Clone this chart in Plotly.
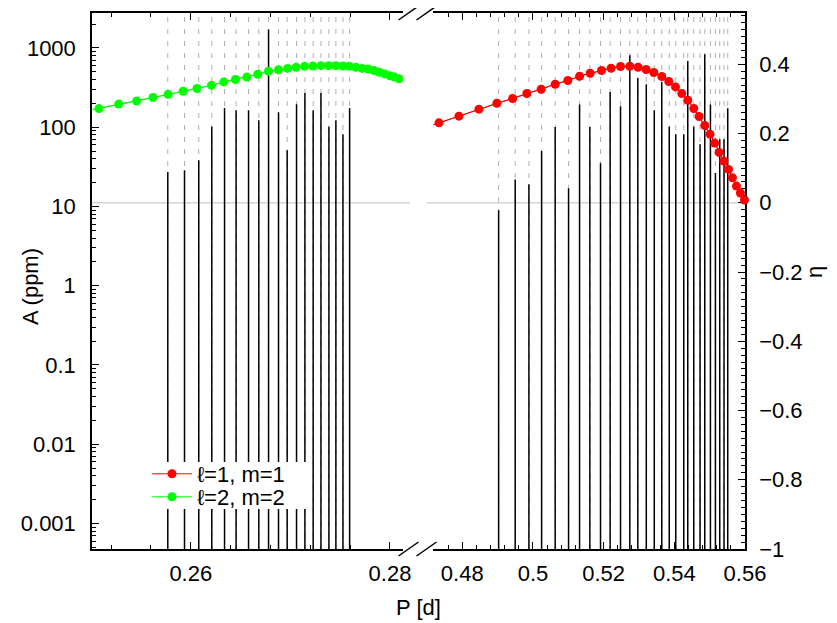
import plotly.graph_objects as go

# ---------------- data ----------------
# l=2, m=2 modes (left panel): period [d] and amplitude [ppm]
P_l2 = [0.25769, 0.25937, 0.26080, 0.26211, 0.26339, 0.26455, 0.26580, 0.26683,
        0.26781, 0.26881, 0.26968, 0.27062, 0.27146, 0.27229, 0.27307, 0.27387,
        0.27457, 0.27528, 0.27595]
A_l2 = [27.3, 28.7, 38.4, 101, 175, 164, 164, 122.6,
        1706, 154.5, 51.3, 195, 271, 164, 271, 101,
        122.6, 81.6, 175]

# l=1, m=1 modes (right panel)
P_l1 = [0.49029, 0.49498, 0.49886, 0.50245, 0.50629, 0.51008, 0.51319, 0.51610,
        0.51912, 0.52184, 0.52478, 0.52741, 0.52967, 0.53207, 0.53433, 0.53645,
        0.53857, 0.54041, 0.54267, 0.54380, 0.54550, 0.54728, 0.54861, 0.55022,
        0.55163, 0.55285, 0.55406, 0.55511]
A_l1 = [8.98, 21.9, 19.1, 50.2, 100.9, 17.0, 193, 100.9,
        35.2, 279, 184, 809, 418, 348, 164, 373,
        101, 81.6, 81.6, 686, 101, 61.0, 833, 193,
        26.5, 70.6, 70.6, 174]

# eta, l=2 m=2
P_eta2 = [0.2488, 0.25078, 0.25276, 0.25457, 0.25621, 0.25772, 0.25923, 0.26063,
          0.26208, 0.26332, 0.26449, 0.26563, 0.26673, 0.26781, 0.26881, 0.26972,
          0.27058, 0.27143, 0.27226, 0.27307, 0.27384, 0.27457, 0.27528, 0.27591,
          0.27658, 0.27722, 0.27782, 0.27839, 0.27892, 0.27947, 0.27997, 0.28043,
          0.28090, 0.28134, 0.28174]
eta2 = [0.261, 0.272, 0.285, 0.294, 0.304, 0.313, 0.322, 0.330,
        0.339, 0.349, 0.356, 0.363, 0.371, 0.380, 0.384, 0.388,
        0.391, 0.394, 0.395, 0.396, 0.396, 0.396, 0.395, 0.394,
        0.391, 0.388, 0.386, 0.382, 0.377, 0.372, 0.367, 0.363,
        0.358, 0.353, 0.348]

# eta, l=1 m=1
P_eta1 = [0.4678, 0.47341, 0.47907, 0.48472, 0.48981, 0.49425, 0.49829, 0.50233,
          0.50629, 0.50988, 0.51319, 0.51618, 0.51941, 0.52212, 0.52478, 0.52741,
          0.52976, 0.53202, 0.53420, 0.53646, 0.53844, 0.54033, 0.54211, 0.54381,
          0.54551, 0.54701, 0.54862, 0.55011, 0.55144, 0.55266, 0.55399, 0.55532,
          0.55645, 0.55758, 0.55871, 0.55985]
eta1 = [0.211, 0.2307, 0.2500, 0.2702, 0.2874, 0.3010, 0.3155, 0.3279,
        0.3423, 0.3530, 0.3654, 0.3741, 0.3819, 0.3885, 0.3934, 0.3943,
        0.3914, 0.3848, 0.3761, 0.3646, 0.3501, 0.3346, 0.3155, 0.2961,
        0.2722, 0.2492, 0.2232, 0.1981, 0.1722, 0.1453, 0.1203, 0.0963,
        0.0721, 0.0482, 0.0280, 0.0078]

A_ticks = [0.001, 0.01, 0.1, 1, 10, 100, 1000]
A_ticktext = ["0.001", "0.01", "0.1", "1", "10", "100", "1000"]
eta_ticks = [-1, -0.8, -0.6, -0.4, -0.2, 0, 0.2, 0.4]
eta_ticktext = ["\u22121", "\u22120.8", "\u22120.6", "\u22120.4", "\u22120.2", "0", "0.2", "0.4"]

# ---------------- layout geometry (page pixels -> figure) ----------------
OFF = 8                     # default body margin of the html page
W, H = 829, 615
PX_L, PX_R, PX_T, PX_B = 92, 745, 13, 549   # plot area in page pixels
L, T = PX_L - OFF, PX_T - OFF
R = W - (PX_R - OFF)
B = H - (PX_B - OFF)
plot_w = PX_R - PX_L
plot_h = PX_B - PX_T


def pxx(xp):
    return (xp - PX_L) / plot_w


def pxy(yp):
    return (PX_B - yp) / plot_h


x1_dom = [0.0, pxx(403)]
x2_dom = [pxx(433), 1.0]
x1_range = [0.25008, 0.28131]
x2_range = [0.47172, 0.56]
y_range = [-3.322, 3.441]
y2_range = [-1.0, 0.548]

FONT = "Liberation Sans, Arial, Helvetica, sans-serif"
FS = 22

fig = go.Figure()


def stems(P, top, low):
    xs, ys = [], []
    for p, a in zip(P, top):
        xs += [p, p, None]
        ys += [low, a, None]
    return xs, ys


# dashed guide lines (full height)
for P, xa in ((P_l2, "x"), (P_l1, "x2")):
    xs, ys = stems(P, [1e5] * len(P), 1e-5)
    fig.add_trace(go.Scatter(x=xs, y=ys, xaxis=xa, yaxis="y", mode="lines",
                             line=dict(color="#b0b0b0", width=1, dash="5px,7px"),
                             showlegend=False, hoverinfo="skip"))

# amplitude bars
for P, A, xa in ((P_l2, A_l2, "x"), (P_l1, A_l1, "x2")):
    xs, ys = stems(P, A, 1e-5)
    fig.add_trace(go.Scatter(x=xs, y=ys, xaxis=xa, yaxis="y", mode="lines",
                             line=dict(color="black", width=1.5),
                             showlegend=False, hoverinfo="skip"))

# eta curves: clipped connecting lines
for P, e, c, xa in ((P_eta1, eta1, "#ff0000", "x2"), (P_eta2, eta2, "#00ff00", "x")):
    fig.add_trace(go.Scatter(x=P, y=e, xaxis=xa, yaxis="y2", mode="lines",
                             line=dict(color=c, width=1), showlegend=False,
                             hoverinfo="skip"))

# eta points (not clipped)
for P, e, c, xa, rng, name, lg in (
        (P_eta1, eta1, "#ff0000", "x2", x2_range, "\u2113=1, m=1", "legend"),
        (P_eta2, eta2, "#00ff00", "x", x1_range, "\u2113=2, m=2", "legend2")):
    pp = [p for p in P if p >= rng[0]]
    ee = [v for p, v in zip(P, e) if p >= rng[0]]
    fig.add_trace(go.Scatter(x=pp, y=ee, xaxis=xa, yaxis="y2", mode="lines+markers",
                             line=dict(color=c, width=1),
                             marker=dict(color=c, size=9),
                             cliponaxis=False, name=name, legend=lg))

axis_common = dict(showline=True, linecolor="black", linewidth=1.5,
                   ticks="inside", tickcolor="black", tickwidth=1, ticklen=7,
                   showgrid=False, zeroline=False, automargin=False,
                   tickfont=dict(family=FONT, size=FS, color="black"))

leg_common = dict(xanchor="left", yanchor="middle", bgcolor="rgba(0,0,0,0)", borderwidth=0,
                  font=dict(family=FONT, size=FS, color="black"),
                  tracegroupgap=0, itemwidth=40)

fig.update_layout(
    template="none",
    width=W, height=H,
    margin=dict(l=L, r=R, t=T, b=B, autoexpand=False),
    paper_bgcolor="white", plot_bgcolor="white",
    font=dict(family=FONT, size=FS, color="black"),
    showlegend=True,
    legend=dict(x=pxx(147), y=pxy(474), **leg_common),
    legend2=dict(x=pxx(147), y=pxy(497), **leg_common),
    xaxis=dict(domain=x1_dom, range=x1_range, anchor="y", mirror="ticks",
               dtick=0.02, tick0=0.26, ticklabelstandoff=4,
               minor=dict(dtick=0.004, tick0=0.26, ticks="inside", ticklen=4,
                          tickcolor="black", showgrid=False),
               **axis_common),
    xaxis2=dict(domain=x2_dom, range=x2_range, anchor="y", mirror="ticks",
                dtick=0.02, tick0=0.48, ticklabelstandoff=4,
                minor=dict(dtick=0.004, tick0=0.48, ticks="inside", ticklen=4,
                           tickcolor="black", showgrid=False),
                **axis_common),
    yaxis=dict(type="log", range=y_range, anchor="x", side="left",
               tickvals=A_ticks, ticktext=A_ticktext, ticklabelstandoff=10,
               minor=dict(tickvals=[m * 10 ** k for k in range(-4, 4) for m in range(2, 10)],
                          ticks="inside", ticklen=4, tickcolor="black", showgrid=False),
               **axis_common),
    yaxis2=dict(range=y2_range, anchor="x2", overlaying="y", side="right",
                tickvals=eta_ticks, ticktext=eta_ticktext, ticklabelstandoff=8,
                minor=dict(dtick=0.02, tick0=0, ticks="inside", ticklen=4,
                           tickcolor="black", showgrid=False),
                **axis_common),
)

# white key box behind the legend entries
fig.add_shape(type="rect", xref="paper", yref="paper",
              x0=pxx(112), x1=pxx(308), y0=pxy(509), y1=pxy(462),
              fillcolor="white", line=dict(width=0), layer="above")

# horizontal eta = 0 reference lines
fig.add_shape(type="line", xref="x domain", yref="y2", x0=0, x1=(410 - 92) / (403 - 92),
              y0=0, y1=0, line=dict(color="#d4d4d4", width=1.5), layer="below")
fig.add_shape(type="line", xref="x2 domain", yref="y2", x0=(427 - 433) / (745 - 433), x1=1,
              y0=0, y1=0, line=dict(color="#d4d4d4", width=1.5), layer="below")

# axis break marks
for yc in (PX_T, PX_B):
    for x0 in (398.5, 416.5):
        fig.add_shape(type="line", xref="paper", yref="paper",
                      x0=pxx(x0), y0=pxy(yc + 7), x1=pxx(x0 + 20), y1=pxy(yc - 7),
                      line=dict(color="black", width=1.5))

# axis titles
ann = dict(xref="paper", yref="paper", showarrow=False, xanchor="center",
           yanchor="middle", font=dict(family=FONT, size=FS, color="black"))
fig.add_annotation(text="A (ppm)", x=pxx(30), y=pxy(287), textangle=-90, **ann)
fig.add_annotation(text="\u03b7", x=pxx(814), y=pxy(272), textangle=-90, **ann)
fig.add_annotation(text="P [d]", x=pxx(418), y=pxy(607), **ann)

fig.write_html("out.html")
